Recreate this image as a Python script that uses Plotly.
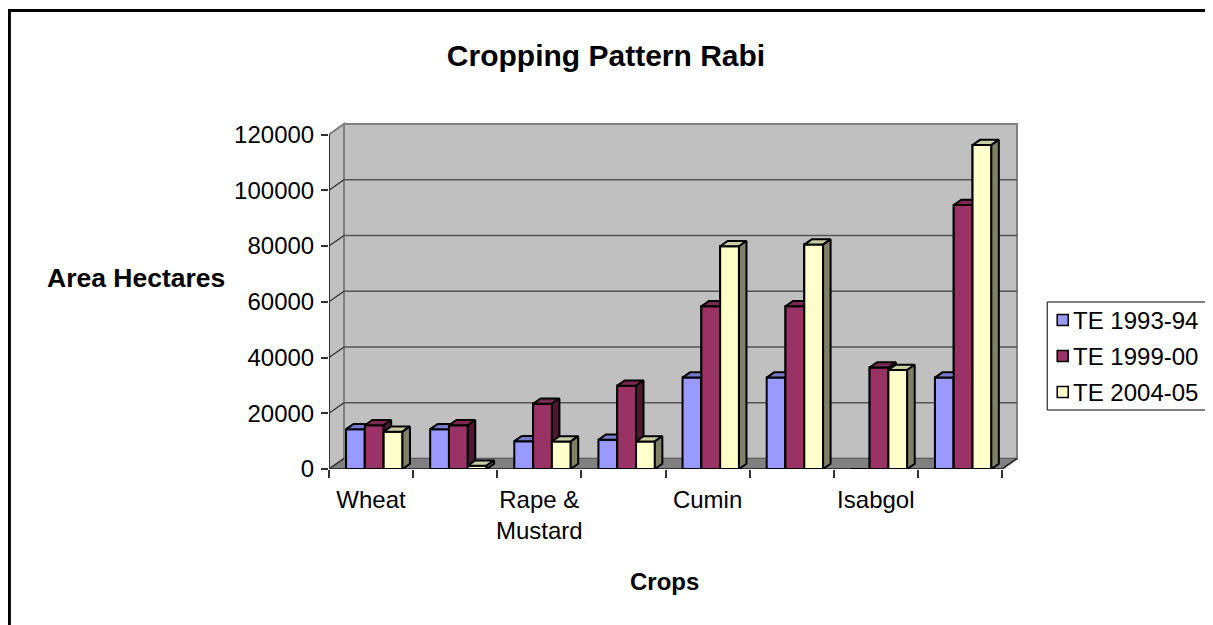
import plotly.graph_objects as go

# ---------------- data ----------------
categories = ["Wheat", "", "Rape & Mustard", "", "Cumin", "", "Isabgol", ""]
tick_labels = ["Wheat", "", "Rape &<br>Mustard", "", "Cumin", "", "Isabgol", ""]
series_names = ["TE 1993-94", "TE 1999-00", "TE 2004-05"]
te_1993_94 = [14300, 14300, 10000, 10500, 32800, 32800, 0, 32800]
te_1999_00 = [15700, 15700, 23400, 29900, 58400, 58400, 36400, 94700]
te_2004_05 = [13400, 1200, 9900, 9900, 79900, 80500, 35500, 116200]
y_tick_values = [0, 20000, 40000, 60000, 80000, 100000, 120000]
y_tick_labels = ["0", "20000", "40000", "60000", "80000", "100000", "120000"]

series_values = [te_1993_94, te_1999_00, te_2004_05]

# ---------------- style / layout constants (reference-pixel coordinates) ----------------
FONT = "Liberation Sans, Arial, sans-serif"
OFF = 8                              # page body margin of the browser
W, H = 1213 - OFF, 625 - OFF         # figure size
PL, PT, PB = 329, 122, 469           # plot area left, top, bottom (reference pixels)
CAT_PX = 84.1                        # pixels per category
WALL_DX, WALL_DY = 15, 10.5          # depth of the walls (pixels)
BAR_DX, BAR_DY = 7.5, 5.25           # depth of the bars (pixels)
PR = PL + 8 * CAT_PX + WALL_DX + 4
YMAX = y_tick_values[-1]
ppv = (PB - (PT + 2) - WALL_DY) / YMAX   # pixels per value unit
y_top = (PB - PT) / ppv
x_right = 0.5 + (PR - PL) / CAT_PX
ddx, ddy = WALL_DX / CAT_PX, WALL_DY / ppv
bdx, bdy = BAR_DX / CAT_PX, BAR_DY / ppv
BAR_W = 18.8 / CAT_PX
GROUP_START = -25.0 / CAT_PX

front_colors = ["#9999FF", "#993366", "#FFFFCC"]
top_colors = ["#7A7ACC", "#7A2952", "#CCCCA3"]
side_colors = ["#4C4C80", "#4C1933", "#808066"]
OUTLINE = "black"
OW = 2

xs = list(range(1, len(categories) + 1))


def px_x(X):
    return (X - PL) / (PR - PL)


def px_y(Y):
    return (PB - Y) / (PB - PT)


fig = go.Figure()

# front faces as real bars
for i, (name, vals) in enumerate(zip(series_names, series_values)):
    fig.add_trace(go.Bar(
        x=xs, y=vals, name=name, width=BAR_W, offset=GROUP_START + i * BAR_W,
        marker=dict(color=front_colors[i], line=dict(color=OUTLINE, width=OW)),
        hoverinfo="x+y+name", showlegend=False,
    ))


def poly_trace(polys, fill):
    px, py = [], []
    for p in polys:
        for (a, b) in p + [p[0]]:
            px.append(a)
            py.append(b)
        px.append(None)
        py.append(None)
    return go.Scatter(x=px, y=py, mode="lines", fill="toself", fillcolor=fill,
                      line=dict(color=OUTLINE, width=OW), showlegend=False,
                      hoverinfo="skip")


# 3D faces, layered so the next bar covers the previous bar's side
for i, vals in enumerate(series_values):
    fronts, tops, sides = [], [], []
    for k, v in zip(xs, vals):
        if not v:
            continue
        a = k + GROUP_START + i * BAR_W
        b = a + BAR_W
        fronts.append([(a, 0), (b, 0), (b, v), (a, v)])
        tops.append([(a, v), (b, v), (b + bdx, v + bdy), (a + bdx, v + bdy)])
        sides.append([(b, 0), (b + bdx, bdy), (b + bdx, v + bdy), (b, v)])
    if i > 0:
        fig.add_trace(poly_trace(fronts, front_colors[i]))
    fig.add_trace(poly_trace(tops, top_colors[i]))
    fig.add_trace(poly_trace(sides, side_colors[i]))

# ---------------- walls, floor, gridlines ----------------
x0, x1 = 0.5, 8.5
shapes = []
WALL = "#C0C0C0"
EDGE = "#808080"
shapes.append(dict(type="rect", xref="x", yref="y", x0=x0 + ddx, x1=x1 + ddx, y0=ddy, y1=YMAX + ddy,
                   fillcolor=WALL, line=dict(color=EDGE, width=2), layer="below"))
shapes.append(dict(type="path", xref="x", yref="y",
                   path=f"M{x0},0 L{x0 + ddx},{ddy} L{x0 + ddx},{YMAX + ddy} L{x0},{YMAX} Z",
                   fillcolor=WALL, line=dict(color=EDGE, width=2), layer="below"))
shapes.append(dict(type="path", xref="x", yref="y",
                   path=f"M{x0},0 L{x1},0 L{x1 + ddx},{ddy} L{x0 + ddx},{ddy} Z",
                   fillcolor="#808080", line=dict(color="#606060", width=1), layer="below"))
for v in y_tick_values[1:-1]:
    shapes.append(dict(type="line", xref="x", yref="y", x0=x0 + ddx, x1=x1 + ddx, y0=v + ddy, y1=v + ddy,
                       line=dict(color="#555555", width=1.6), layer="below"))
for v in y_tick_values:
    shapes.append(dict(type="line", xref="x", yref="y", x0=x0, x1=x0 + ddx, y0=v, y1=v + ddy,
                       line=dict(color="#303030" if v < YMAX else EDGE, width=1.3), layer="below"))
shapes.append(dict(type="line", xref="x", yref="y", x0=x0, x1=x0, y0=0, y1=YMAX,
                   line=dict(color="#303030", width=2), layer="below"))
shapes.append(dict(type="path", xref="x", yref="y",
                   path=f"M{x0},0 L{x1},0 L{x1 + ddx},{ddy}",
                   line=dict(color="#303030", width=2), layer="below"))
# outer chart frame
shapes.append(dict(type="rect", xref="paper", yref="paper",
                   x0=px_x(9.5), x1=px_x(1260), y0=px_y(10.5), y1=px_y(680),
                   line=dict(color="black", width=3), fillcolor="rgba(0,0,0,0)", layer="above"))

# ---------------- legend (drawn box, swatches and text) ----------------
LEG_L, LEG_T, LEG_B = 1047, 302, 410
LEG_ROWS = [320, 356, 392]
SW = 11
shapes.append(dict(type="rect", xref="paper", yref="paper",
                   x0=px_x(LEG_L), x1=px_x(1260), y0=px_y(LEG_T), y1=px_y(LEG_B),
                   line=dict(color="black", width=1), fillcolor="white", layer="above"))
annotations = []
for i, name in enumerate(series_names):
    cy = LEG_ROWS[i]
    shapes.append(dict(type="rect", xref="paper", yref="paper",
                       x0=px_x(1057), x1=px_x(1057 + SW), y0=px_y(cy - SW / 2), y1=px_y(cy + SW / 2),
                       line=dict(color="black", width=1.5), fillcolor=front_colors[i], layer="above"))
    annotations.append(dict(text=name, xref="paper", yref="paper", x=px_x(1071), y=px_y(cy),
                            xanchor="left", yanchor="middle", showarrow=False,
                            font=dict(family=FONT, size=24, color="black")))

annotations += [
    dict(text="<b>Area Hectares</b>", xref="paper", yref="paper", x=px_x(136), y=px_y(278),
         xanchor="center", yanchor="middle", showarrow=False, font=dict(family=FONT, size=26.5, color="black")),
    dict(text="<b>Crops</b>", xref="paper", yref="paper", x=px_x(664), y=px_y(581),
         xanchor="center", yanchor="middle", showarrow=False, font=dict(family=FONT, size=24, color="black")),
]

fig.update_layout(
    width=W, height=H,
    margin=dict(l=PL - OFF, r=1213 - PR, t=PT - OFF, b=625 - PB, autoexpand=False),
    paper_bgcolor="white", plot_bgcolor="white",
    title=dict(text="<b>Cropping Pattern Rabi</b>", x=(606 - OFF) / W, y=1 - (55 - OFF) / H,
               xanchor="center", yanchor="middle",
               font=dict(family=FONT, size=30, color="black")),
    font=dict(family=FONT, size=24, color="black"),
    barmode="overlay",
    showlegend=False,
    xaxis=dict(range=[0.5, x_right], tickmode="array", tickvals=xs, ticktext=tick_labels,
               ticks="", showgrid=False, zeroline=False, showline=False, fixedrange=True,
               tickfont=dict(family=FONT, size=24, color="black"), ticklabelstandoff=14,
               minor=dict(tickmode="array", tickvals=[k + 0.5 for k in range(0, 9)], ticks="outside",
                          ticklen=8, tickwidth=1.5, tickcolor="#303030", showgrid=False)),
    yaxis=dict(range=[0, y_top], tickmode="array", tickvals=y_tick_values, ticktext=y_tick_labels,
               ticks="outside", ticklen=7, tickwidth=1.5, tickcolor="#303030",
               showgrid=False, zeroline=False, showline=False, fixedrange=True,
               tickfont=dict(family=FONT, size=24, color="black"), ticklabelstandoff=2),
    shapes=shapes,
    annotations=annotations,
)

fig.write_html("out.html")
